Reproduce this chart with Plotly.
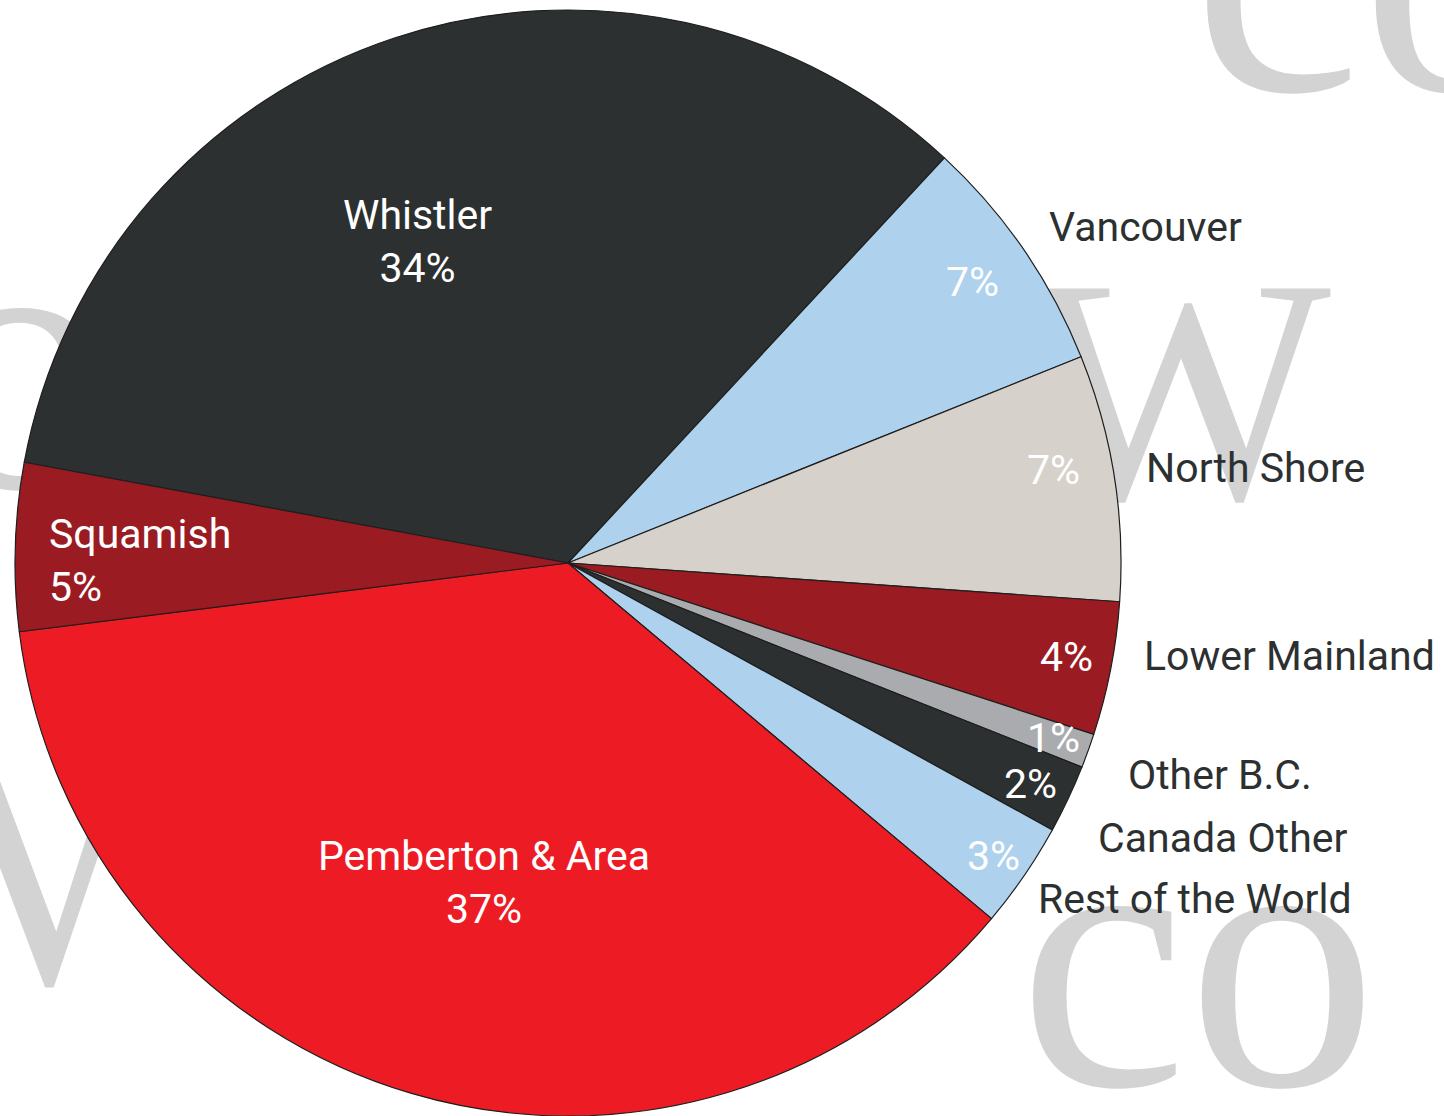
import plotly.graph_objects as go

W, H = 1444, 1116

# Data (clockwise, starting with Whistler)
regions = ["Whistler", "Vancouver", "North Shore", "Lower Mainland", "Other B.C.",
           "Canada Other", "Rest of the World", "Pemberton & Area", "Squamish"]
shares = [34.0, 7.0, 7.2, 3.9, 1.0, 2.0, 3.1, 36.9, 4.9]
colours = ["#2d3030", "#aed1ed", "#d6d1ca", "#9b1b23", "#aaabae",
           "#2d3030", "#aed1ed", "#ed1c24", "#9b1b23"]

total = sum(shares)
pct = {r: f"{round(v / total * 100)}%" for r, v in zip(regions, shares)}

# label placement, in page pixels
inside_names = {"Whistler": (417, 241, "center"),
                "Squamish": (47, 560, "left"),
                "Pemberton & Area": (484, 882, "center")}
pct_pos = {"Vancouver": (972, 282), "North Shore": (1053, 470),
           "Lower Mainland": (1066, 657), "Other B.C.": (1053, 738),
           "Canada Other": (1030, 784), "Rest of the World": (993, 856)}
outside_pos = {"Vancouver": (1145, 227), "North Shore": (1255, 468),
               "Lower Mainland": (1289, 656), "Other B.C.": (1220, 775),
               "Canada Other": (1222, 838), "Rest of the World": (1195, 899)}

# background watermark letters
wm_text = ["W", "co", "co", "W", "co"]
wm_x = [1180, 1198, 1372, -12, -64]
wm_y = [418, 990, -5, 900, 392]
wm_size = [320, 380, 380, 330, 380]

fig = go.Figure()

fig.add_trace(go.Scatter(
    x=wm_x, y=wm_y, text=wm_text, mode="text",
    textposition="middle center",
    textfont=dict(family="Liberation Serif, serif", size=wm_size, color="#d3d3d3"),
    hoverinfo="skip", showlegend=False,
))

R = 553
cx, cy = 568, 563
fig.add_trace(go.Pie(
    labels=regions, values=shares,
    sort=False, direction="clockwise", rotation=280.5,
    marker=dict(colors=colours, line=dict(color="#1e1e1e", width=1.2)),
    textinfo="none", hoverinfo="label+percent",
    domain=dict(x=[(cx - R) / W, (cx + R) / W], y=[(H - cy - R) / H, (H - cy + R) / H]),
    showlegend=False,
))

font = "Roboto, Arial, sans-serif"
ann = []
for name, (x, y, anchor) in inside_names.items():
    ann.append(dict(x=x, y=y, text=f"{name}<br>{pct[name]}", xanchor=anchor,
                    align=anchor, yanchor="middle", showarrow=False,
                    font=dict(family=font, size=41, color="white")))
for name, (x, y) in pct_pos.items():
    ann.append(dict(x=x, y=y, text=pct[name], xanchor="center", yanchor="middle",
                    showarrow=False, font=dict(family=font, size=41, color="white")))
for name, (x, y) in outside_pos.items():
    ann.append(dict(x=x, y=y, text=name, xanchor="center", yanchor="middle",
                    showarrow=False, font=dict(family=font, size=41, color="#2d3030")))

fig.update_layout(
    width=W, height=H,
    margin=dict(l=0, r=0, t=0, b=0),
    paper_bgcolor="white", plot_bgcolor="white",
    xaxis=dict(range=[0, W], visible=False, fixedrange=True),
    yaxis=dict(range=[H, 0], visible=False, fixedrange=True),
    annotations=ann,
)

fig.write_html("out.html", config={"displayModeBar": False},
               post_script="document.body.style.margin='0';")
